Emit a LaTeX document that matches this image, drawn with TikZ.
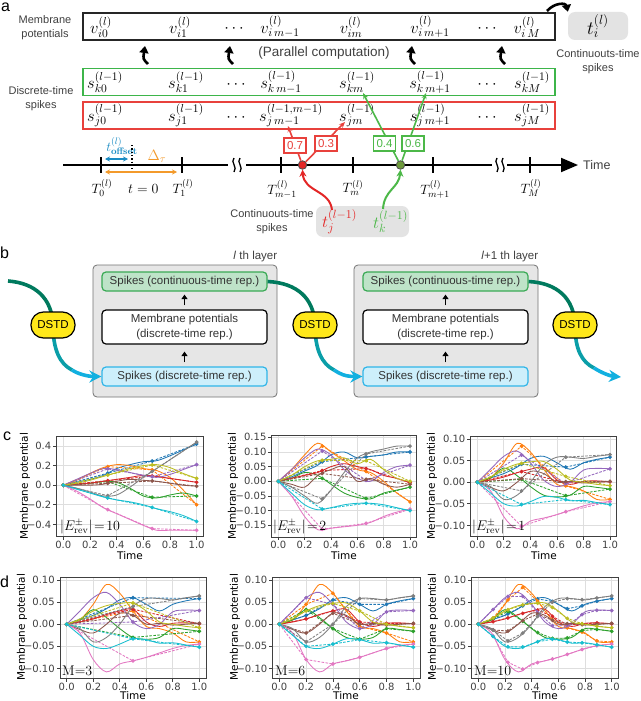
\RequirePackage{fix-cm}
\documentclass[tikz,border=0pt]{standalone}
\usepackage[no-math]{fontspec}
\setmainfont{Liberation Sans}
\newfontfamily\djvfont{DejaVu Sans}
\usetikzlibrary{arrows.meta,calc}
\definecolor{tblue}{HTML}{1F77B4}
\definecolor{torange}{HTML}{FF7F0E}
\definecolor{tgreen}{HTML}{2CA02C}
\definecolor{tred}{HTML}{D62728}
\definecolor{tpurple}{HTML}{9467BD}
\definecolor{tbrown}{HTML}{8C564B}
\definecolor{tpink}{HTML}{E377C2}
\definecolor{tgray}{HTML}{7F7F7F}
\definecolor{tolive}{HTML}{BCBD22}
\definecolor{tcyan}{HTML}{17BECF}
\definecolor{labgray}{HTML}{404040}
\definecolor{boxgreen}{HTML}{3DB54A}
\definecolor{boxred}{HTML}{E8413C}
\definecolor{offblue}{HTML}{1A8CC4}
\definecolor{dtorange}{HTML}{F39A2B}
\definecolor{dotred}{HTML}{E32626}
\definecolor{dotgreen}{HTML}{6E9B3C}
\definecolor{curvegreen}{HTML}{4CB848}
\definecolor{tgraybox}{HTML}{E3E3E3}
\definecolor{layergray}{HTML}{E6E6E6}
\definecolor{lgfill}{HTML}{BEE3C8}
\definecolor{lgdraw}{HTML}{3AAA55}
\definecolor{lbfill}{HTML}{CDEFFB}
\definecolor{lbdraw}{HTML}{30B5E8}
\definecolor{dstdY}{HTML}{FFE81A}
\definecolor{flowA}{HTML}{007A5E}
\definecolor{flowB}{HTML}{0A9EA8}
\definecolor{flowC}{HTML}{12B0E0}
% ---- data ----
\def\Rblue{{0,0.01,0.02,0.035,0.055,0.06,0.045,0.03,0.045,0.053,0.058}}
\def\Rorange{{0,0.01,0.045,0.09,0.07,0.03,-0.005,-0.01,-0.02,-0.04,-0.04}}
\def\Rgreen{{0,0.01,0.033,0.015,-0.01,-0.03,-0.034,-0.03,-0.01,-0.012,-0.016}}
\def\Rred{{0,0.005,0.012,0.022,0.03,0.034,0.005,-0.005,0.002,0.003,0.001}}
\def\Rpurple{{0,0.03,0.06,0.072,0.045,0.005,-0.01,0.0,0.028,0.032,0.031}}
\def\Rbrown{{0,-0.012,-0.02,0.0,0.025,0.02,0.0,0.002,-0.002,0.0,0.002}}
\def\Rpink{{0,-0.02,-0.08,-0.108,-0.09,-0.083,-0.075,-0.065,-0.055,-0.048,-0.045}}
\def\Rgray{{0,-0.01,-0.04,-0.03,0.0,0.04,0.058,0.058,0.055,0.06,0.064}}
\def\Rolive{{0,0.012,0.03,0.042,0.047,0.048,0.03,0.005,0.0,-0.005,-0.008}}
\def\Rcyan{{0,-0.025,-0.05,-0.055,-0.045,-0.033,-0.035,-0.043,-0.042,-0.047,-0.052}}
\def\Mblue{{0,0.015,0.035,0.055,0.09,0.1,0.08,0.085,0.09,0.1,0.1}}
\def\Morange{{0,0.04,0.09,0.13,0.1,0.07,0.04,0.03,0.0,-0.04,-0.07}}
\def\Mgreen{{0,0.01,0.03,0.02,-0.01,-0.04,-0.055,-0.06,-0.04,-0.03,-0.02}}
\def\Mred{{0,0.01,0.02,0.03,0.05,0.06,0.05,0.04,0.02,0.01,-0.005}}
\def\Mpurple{{0,0.04,0.08,0.11,0.09,0.04,0.01,0.0,0.03,0.05,0.055}}
\def\Mbrown{{0,-0.01,-0.02,0.02,0.04,0.05,0.0,0.01,-0.01,-0.02,-0.01}}
\def\Mpink{{0,-0.05,-0.12,-0.165,-0.16,-0.155,-0.15,-0.14,-0.12,-0.105,-0.095}}
\def\Mgray{{0,-0.02,-0.05,-0.075,-0.03,0.03,0.08,0.1,0.11,0.12,0.12}}
\def\Molive{{0,0.02,0.05,0.07,0.075,0.08,0.06,0.075,0.04,0.01,0.0}}
\def\Mcyan{{0,-0.04,-0.08,-0.097,-0.09,-0.08,-0.075,-0.075,-0.08,-0.09,-0.1}}
\def\Lblue{{0,0.03,0.06,0.1,0.17,0.21,0.24,0.25,0.3,0.36,0.42}}
\def\Lorange{{0,0.05,0.12,0.18,0.21,0.2,0.17,0.15,0.08,-0.05,-0.2}}
\def\Lgreen{{0,0.01,0.02,0.04,0.03,-0.03,-0.11,-0.13,-0.1,-0.08,-0.11}}
\def\Lred{{0,0.01,0.02,0.04,0.06,0.08,0.1,0.09,0.07,0.05,0.03}}
\def\Lpurple{{0,0.06,0.12,0.17,0.16,0.13,0.1,0.08,0.11,0.16,0.21}}
\def\Lbrown{{0,0.0,0.0,0.01,0.04,0.06,0.05,0.04,0.02,0.0,-0.01}}
\def\Lpink{{0,-0.06,-0.14,-0.23,-0.29,-0.35,-0.41,-0.46,-0.46,-0.46,-0.46}}
\def\Lgray{{0,-0.03,-0.07,-0.11,-0.1,-0.02,0.08,0.17,0.26,0.35,0.44}}
\def\Lolive{{0,0.02,0.05,0.09,0.13,0.17,0.2,0.21,0.18,0.12,0.07}}
\def\Lcyan{{0,-0.04,-0.08,-0.12,-0.15,-0.17,-0.2,-0.24,-0.27,-0.31,-0.37}}
\tikzset{
  lab/.style={font=\fontsize{11}{14}\selectfont, text=labgray, align=center, inner sep=0pt},
  mth/.style={font=\fontsize{13.5}{15}\selectfont, inner sep=0pt},
  rowm/.style={font=\fontsize{16.5}{18}\selectfont, inner sep=0pt},
  plab/.style={font=\fontsize{16}{18}\selectfont, anchor=base west, inner sep=0pt},
  rowbox/.style={draw, line width=1.3pt, minimum width=472pt, minimum height=27pt, inner sep=0pt},
  bigarr/.style={line width=2.6pt, -{Triangle[length=7pt,width=9pt]}, black},
  vbox/.style={draw, fill=white, line width=1.3pt, font=\fontsize{11.5}{13}\selectfont, inner sep=1.2pt, minimum width=22pt, minimum height=15pt},
  redar/.style={boxred, line width=1.6pt, -{Stealth[length=6pt,width=5pt]}},
  greenar/.style={curvegreen, line width=1.6pt, -{Stealth[length=6pt,width=5pt]}},
  tick/.style={line width=2pt},
  layerbox/.style={draw=black!55, fill=layergray, rounded corners=4pt, line width=0.8pt, minimum width=184pt, minimum height=132pt, inner sep=0pt},
  inbox/.style={rounded corners=4pt, line width=1.2pt, minimum width=165pt, font=\fontsize{11.5}{14}\selectfont, text=black!80, align=center, inner sep=0pt},
  dstd/.style={draw=black, line width=1.2pt, fill=dstdY, rounded corners=12.5pt, minimum width=44pt, minimum height=26pt, font=\fontsize{11.5}{13}\selectfont, inner sep=0pt},
  flowline/.style={line width=3.6pt},
  smallarr/.style={line width=1.8pt, -{Triangle[length=4.5pt,width=6pt]}},
  gridl/.style={black!13, line width=0.7pt},
  axl/.style={black!75, line width=0.7pt},
  ytl/.style={anchor=east, font=\djvfont\fontsize{10}{12}\selectfont, inner sep=1.5pt},
  xtl/.style={anchor=north, font=\djvfont\fontsize{10}{12}\selectfont, inner sep=1pt},
  axlab/.style={font=\djvfont\fontsize{10.5}{12}\selectfont, inner sep=0pt},
  solidser/.style={line width=0.85pt},
  dashser/.style={line width=0.85pt, dash pattern=on 2.6pt off 1.4pt, mark=*, mark size=1.45pt, mark options={solid}},
}
\newcommand\series[3]{%
  \expandafter\let\expandafter\curarr\csname #1#2\endcsname
  \edef\curcol{t#2}%
  \begin{scope}[declare function={ip(\u)=\curarr[int(min(floor(\u*10),9))]*(1-(\u*10-min(floor(\u*10),9)))+\curarr[int(min(floor(\u*10),9))+1]*(\u*10-min(floor(\u*10),9));}]
    \draw[color=\curcol, solidser] plot[smooth, tension=0.55, samples at={0,1,...,10}, variable=\k] ({\k/10},{\curarr[int(\k)]});
    \draw[color=\curcol, dashser] plot[samples at={#3}, variable=\k] (\k,{ip(\k)});
  \end{scope}}
% #1 xo #2 xs #3 yo #4 ys #5 vmin #6 vmax #7 yticks #8 set #9 times
\newcommand\mplot[9]{%
\begin{scope}[shift={(#1,#3)},x=#2pt,y=#4pt]
 \foreach \v/\lab in {#7}{\draw[gridl] (-0.05,\v) -- (1.05,\v); \draw[axl] (-0.05,\v) -- ++(-3.5pt,0) node[ytl]{\lab};}
 \foreach \t/\lab in {0/0.0,0.2/0.2,0.4/0.4,0.6/0.6,0.8/0.8,1/1.0}{\draw[gridl] (\t,#5) -- (\t,#6); \draw[axl] (\t,#5) -- ++(0,-3pt) node[xtl]{\lab};}
 \begin{scope}
  \clip (-0.05,#5) rectangle (1.05,#6);
  \foreach \c in {blue,orange,green,red,purple,brown,pink,gray,olive,cyan}{\series{#8}{\c}{#9}}
 \end{scope}
 \draw[axl] (-0.05,#5) rectangle (1.05,#6);
\end{scope}}
\begin{document}
\begin{tikzpicture}[x=1pt,y=-1pt]
\useasboundingbox (0,0) rectangle (640,701);
\fill[white] (0,0) rectangle (640,701);
% ================= panel a =================
\node[plab] (pa) at (1,12) {a};
\node[lab] (mplab) at (45,27.5) {Membrane\\potentials};
\node[lab] (dslab) at (41,98.5) {Discrete-time\\spikes};
\node[rowbox, draw=black!85] (vrow) at (319,26.5) {};
\node[rowbox, draw=boxgreen] (krow) at (319,82) {};
\node[rowbox, draw=boxred] (jrow) at (319,115.5) {};
% v row
\node[rowm] (v0) at (101,27) {$v_{i0}^{(l)}$};
\node[rowm] (v1) at (180,27) {$v_{i1}^{(l)}$};
\node[rowm] (vd1) at (234,29) {$\cdots$};
\node[rowm] (vm1) at (280,27) {$v_{i\,m-1}^{(l)}$};
\node[rowm] (vm) at (351,27) {$v_{im}^{(l)}$};
\node[rowm] (vmp) at (430,27) {$v_{i\,m+1}^{(l)}$};
\node[rowm] (vd2) at (487,29) {$\cdots$};
\node[rowm] (vM) at (527,27) {$v_{i\,M}^{(l)}$};
% k row
\node[rowm] (sk0) at (105,82) {$s_{k0}^{(l-1)}$};
\node[rowm] (sk1) at (186,82) {$s_{k1}^{(l-1)}$};
\node[rowm] (skd1) at (236,85) {$\cdots$};
\node[rowm] (skm1) at (281,82) {$s_{k\,m-1}^{(l-1)}$};
\node[rowm] (skm) at (357,82) {$s_{km}^{(l-1)}$};
\node[rowm] (skmp) at (430,82) {$s_{k\,m+1}^{(l-1)}$};
\node[rowm] (skd2) at (487,85) {$\cdots$};
\node[rowm] (skM) at (532,82) {$s_{kM}^{(l-1)}$};
% j row
\node[rowm] (sj0) at (105,115.5) {$s_{j0}^{(l-1)}$};
\node[rowm] (sj1) at (186,115.5) {$s_{j1}^{(l-1)}$};
\node[rowm] (sjd1) at (236,118) {$\cdots$};
\node[rowm] (sjm1) at (291,115.5) {$s_{j\,m-1}^{(l-1,m-1)}$};
\node[rowm] (sjm) at (357,115.5) {$s_{jm}^{(l-1)}$};
\node[rowm] (sjmp) at (430,115.5) {$s_{j\,m+1}^{(l-1)}$};
\node[rowm] (sjd2) at (487,118) {$\cdots$};
\node[rowm] (sjM) at (532,115.5) {$s_{jM}^{(l-1)}$};
% curved black arrows
\coordinate (ca1) at (148,64); \coordinate (ca1e) at (145,46);
\coordinate (ca2) at (233,64); \coordinate (ca2e) at (230,46);
\coordinate (ca3) at (415,64); \coordinate (ca3e) at (412,46);
\coordinate (ca4) at (505,64); \coordinate (ca4e) at (502,46);
\draw[bigarr] (ca1) .. controls (143,59) .. (ca1e);
\draw[bigarr] (ca2) .. controls (228,59) .. (ca2e);
\draw[bigarr] (ca3) .. controls (410,59) .. (ca3e);
\draw[bigarr] (ca4) .. controls (500,59) .. (ca4e);
\node[font=\fontsize{13.5}{15}\selectfont, text=labgray, inner sep=0pt] (par) at (324,53) {(Parallel computation)};
% output spike
\node[fill=tgraybox, rounded corners=7pt, minimum width=60pt, minimum height=28pt, font=\fontsize{19}{21}\selectfont, inner sep=0pt] (ti) at (598,26) {$t_i^{(l)}$};
\coordinate (oa) at (547,11);
\draw[bigarr] (oa) .. controls (555,2) and (566,3) .. (ti.north west);
\node[lab] (ctl) at (598,61.5) {Continuouts-time\\spikes};
% time axis
\coordinate (ax0) at (63,165); \coordinate (ax1) at (228,165);
\coordinate (ax2) at (246,165); \coordinate (ax3) at (492,165);
\coordinate (ax4) at (507,165); \coordinate (ax5) at (578,165);
\draw[line width=2pt] (ax0) -- (ax1);
\draw[line width=2pt] (ax2) -- (ax3);
\draw[line width=2pt, -{Triangle[length=17pt,width=14pt]}] (ax4) -- (ax5);
\node[font=\fontsize{12.5}{14}\selectfont, text=labgray, anchor=west, inner sep=0pt] (timel) at (583,165) {Time};
% breaks
\draw[line width=1.3pt] (234,158) .. controls (230,162) and (238,167) .. (234,172);
\draw[line width=1.3pt] (240,158) .. controls (236,162) and (244,167) .. (240,172);
\draw[line width=1.3pt] (497,158) .. controls (493,162) and (501,167) .. (497,172);
\draw[line width=1.3pt] (503,158) .. controls (499,162) and (507,167) .. (503,172);
% ticks
\foreach \x in {101,182,281,353,433,530}{\draw[tick] (\x,157) -- (\x,173);}
\node[mth] (T0) at (102,188) {$T_0^{(l)}$};
\node[mth] (T1) at (183,188) {$T_1^{(l)}$};
\node[mth] (Tm1) at (282,189) {$T_{m-1}^{(l)}$};
\node[mth] (Tm) at (353,188) {$T_m^{(l)}$};
\node[mth] (Tmp) at (435,189) {$T_{m+1}^{(l)}$};
\node[mth] (TM) at (531,188) {$T_M^{(l)}$};
% t=0, offsets
\draw[line width=1.3pt, dotted] (132,145) -- (132,173);
\node[mth, anchor=west, font=\fontsize{14}{16}\selectfont] (tz) at (128,189) {$t=0$};
\node[mth, text=offblue] (toff) at (122,146) {$t_{\mathbf{offset}}^{(l)}$};
\coordinate (of0) at (105,159); \coordinate (of1) at (128,159);
\draw[offblue, line width=1.8pt, {Stealth[length=5pt,width=5pt]}-{Stealth[length=5pt,width=5pt]}] (of0) -- (of1);
\node[mth, text=dtorange, font=\fontsize{15}{17}\selectfont] (dtau) at (157,156) {$\Delta_\tau$};
\coordinate (dt0) at (105,172); \coordinate (dt1) at (177,172);
\draw[dtorange, line width=1.8pt, {Stealth[length=5pt,width=5pt]}-{Stealth[length=5pt,width=5pt]}] (dt0) -- (dt1);
% input spikes
\node[fill=tgraybox, rounded corners=7pt, minimum width=93pt, minimum height=31pt, inner sep=0pt] (inbox) at (362.5,221.5) {};
\node[font=\fontsize{17}{19}\selectfont, text=dotred, inner sep=0pt] (tj) at (339.5,221.5) {$t_j^{(l-1)}$};
\node[font=\fontsize{17}{19}\selectfont, text=curvegreen, inner sep=0pt] (tk) at (390.5,221.5) {$t_k^{(l-1)}$};
\node[lab] (ctl2) at (272,221.5) {Continuouts-time\\spikes};
\node[circle, fill=dotred, draw=black!70, line width=0.8pt, minimum size=8.5pt, inner sep=0pt] (rd) at (302.5,165) {};
\node[circle, fill=dotgreen, draw=black!70, line width=0.8pt, minimum size=8.5pt, inner sep=0pt] (gd) at (400.5,165) {};
\coordinate (rs) at (332,210); \coordinate (gs) at (383,209);
\draw[dotred, line width=2pt, -{Stealth[length=7pt,width=7pt]}] (rs) .. controls (330,190) and (304,192) .. (rd.south);
\draw[curvegreen, line width=2pt, -{Stealth[length=7pt,width=7pt]}] (gs) .. controls (384,190) and (399,188) .. (gd.south);
\coordinate (tipA) at (288,126);
\coordinate (tipB) at (345,122);
\coordinate (tipC) at (363,93);
\coordinate (tipD) at (426,93);
\draw[redar] (rd) -- (tipA);
\draw[redar] (rd) -- (tipB);
\draw[greenar] (gd) -- (tipC);
\draw[greenar] (gd) -- (tipD);
\node[vbox, draw=boxred, text=boxred] (w07) at (295,145.5) {0.7};
\node[vbox, draw=boxred, text=boxred] (w03) at (326,143.5) {0.3};
\node[vbox, draw=curvegreen, text=curvegreen] (w04) at (384.5,143.5) {0.4};
\node[vbox, draw=curvegreen, text=curvegreen] (w06) at (413,143.5) {0.6};
% ================= panel b =================
\node[plab] (pb) at (0,258) {b};
\node[layerbox] (L1) at (185,331) {};
\node[layerbox] (L2) at (446,331) {};
\node[lab, anchor=south east, font=\fontsize{11.5}{13}\selectfont] (L1t) at (L1.north east) [yshift=3pt] {\textit{l} th layer};
\node[lab, anchor=south east, font=\fontsize{11.5}{13}\selectfont] (L2t) at (L2.north east) [yshift=3pt] {\textit{l}+1 th layer};
\foreach \L/\x in {L1/184.5,L2/445.5}{
  \node[inbox, draw=lgdraw, fill=lgfill, minimum height=19pt] (\L g) at (\x,281.5) {Spikes (continuous-time rep.)};
  \node[inbox, draw=black, fill=white, minimum height=34pt] (\L w) at (\x,327) {Membrane potentials\\[1pt](discrete-time rep.)};
  \node[inbox, draw=lbdraw, fill=lbfill, minimum height=19pt] (\L b) at (\x,376.5) {Spikes (discrete-time rep.)};
  \draw[smallarr] ($(\L w.north)+(0,-4)$) -- ($(\L g.south)+(0,3)$);
  \draw[smallarr] ($(\L b.north)+(0,-4)$) -- ($(\L w.south)+(0,7)$);
}
\coordinate (D1c) at (53,325); \coordinate (D2c) at (315,325); \coordinate (D3c) at (575,325);
\coordinate (F1s) at (8,281);
\coordinate (F3e) at (621,377);
\coordinate (m1) at (72,370); \coordinate (m2) at (334,370); \coordinate (m3) at (594,368);
\draw[flowline, flowA] (F1s) .. controls (35,283) and (52,298) .. (D1c);
\draw[flowline, flowB] (D1c) .. controls (53,350) and (60,364) .. (m1);
\draw[flowline, flowC, -{Stealth[length=12pt,width=12pt]}] (m1) .. controls (78,374) and (88,376.5) .. (L1b.west);
\draw[flowline, flowA] (L1g.east) .. controls (297,283) and (314,298) .. (D2c);
\draw[flowline, flowB] (D2c) .. controls (315,350) and (322,364) .. (m2);
\draw[flowline, flowC, -{Stealth[length=12pt,width=12pt]}] (m2) .. controls (340,374) and (345,376.5) .. (L2b.west);
\draw[flowline, flowA] (L2g.east) .. controls (557,283) and (574,298) .. (D3c);
\draw[flowline, flowB] (D3c) .. controls (575,350) and (582,362) .. (m3);
\draw[flowline, flowC, -{Stealth[length=12pt,width=12pt]}] (m3) .. controls (602,373) and (610,376) .. (F3e);
\node[dstd] (D1) at (D1c) {DSTD};
\node[dstd] (D2) at (D2c) {DSTD};
\node[dstd] (D3) at (D3c) {DSTD};
% ================= panel c =================
\node[plab] (pc) at (3,440) {c};
\mplot{63.3}{133.3}{485.2}{97.9}{-0.526}{0.503}{0.4/0.4,0.2/0.2,0/0.0,-0.2/−0.2,-0.4/−0.4}{L}{0,0.3333,0.6667,1}
\mplot{278.3}{131.7}{481.3}{293.3}{-0.19}{0.158}{0.15/0.15,0.1/0.10,0.05/0.05,0/0.00,-0.05/−0.05,-0.1/−0.10,-0.15/−0.15}{M}{0,0.3333,0.6667,1}
\mplot{477.3}{132.7}{482.2}{431.7}{-0.126}{0.107}{0.1/0.10,0.05/0.05,0/0.00,-0.05/−0.05,-0.1/−0.10}{R}{0,0.3333,0.6667,1}
\node[axlab] (cx1) at (130,555.5) {Time};
\node[axlab] (cx2) at (344,555.5) {Time};
\node[axlab] (cx3) at (544,555.5) {Time};
\node[axlab, rotate=90] (cy1) at (25,486) {Membrane potential};
\node[axlab, rotate=90] (cy2) at (233,486) {Membrane potential};
\node[axlab, rotate=90] (cy3) at (432,486) {Membrane potential};
\node[font=\fontsize{14}{16}\selectfont, anchor=south west, inner sep=0pt] (e1) at (60,534) {$|E^{\pm}_{\mathrm{rev}}|\!=\!10$};
\node[font=\fontsize{14}{16}\selectfont, anchor=south west, inner sep=0pt] (e2) at (273,534) {$|E^{\pm}_{\mathrm{rev}}|\!=\!2$};
\node[font=\fontsize{14}{16}\selectfont, anchor=south west, inner sep=0pt] (e3) at (472,534) {$|E^{\pm}_{\mathrm{rev}}|\!=\!1$};
% ================= panel d =================
\node[plab] (pd) at (0,587) {d};
\mplot{66.7}{132.6}{624.2}{441.7}{-0.123}{0.107}{0.1/0.10,0.05/0.05,0/0.00,-0.05/−0.05,-0.1/−0.10}{R}{0,0.5,1}
\mplot{279.3}{134}{624.2}{441.7}{-0.123}{0.107}{0.1/0.10,0.05/0.05,0/0.00,-0.05/−0.05,-0.1/−0.10}{R}{0,0.2,0.4,0.6,0.8,1}
\mplot{478.3}{133.4}{624.2}{441.7}{-0.123}{0.107}{0.1/0.10,0.05/0.05,0/0.00,-0.05/−0.05,-0.1/−0.10}{R}{0,0.1111,0.2222,0.3333,0.4444,0.5556,0.6667,0.7778,0.8889,1}
\node[axlab] (dx1) at (133,695.5) {Time};
\node[axlab] (dx2) at (346,695.5) {Time};
\node[axlab] (dx3) at (545,695.5) {Time};
\node[axlab, rotate=90] (dy1) at (22,627) {Membrane potential};
\node[axlab, rotate=90] (dy2) at (235,627) {Membrane potential};
\node[axlab, rotate=90] (dy3) at (433,627) {Membrane potential};
\node[font=\fontsize{14}{16}\selectfont, anchor=south west, inner sep=0pt] (M1) at (62,676) {$\mathrm{M{=}3}$};
\node[font=\fontsize{14}{16}\selectfont, anchor=south west, inner sep=0pt] (M2) at (275,676) {$\mathrm{M{=}6}$};
\node[font=\fontsize{14}{16}\selectfont, anchor=south west, inner sep=0pt] (M3) at (474,676) {$\mathrm{M{=}10}$};
\end{tikzpicture}
\end{document}
